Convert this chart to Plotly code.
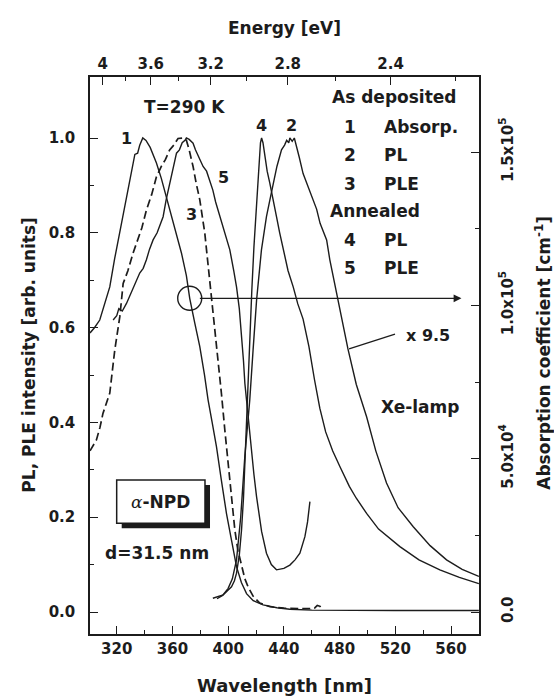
import plotly.graph_objects as go

# ---------------- data ----------------
# Curve 1: absorption coefficient (cm^-1), as deposited
abs_wl = [300.8, 304, 307.8, 311, 315, 318.5, 322.2, 326, 329.3, 331.5, 333, 335, 336.5, 338.7,
          341, 344, 348.5, 352, 355.7, 359, 362.9, 366.5, 370, 372.4, 376, 379.6, 383, 385.6,
          388.5, 391.6, 395, 398.8, 402.5, 406, 409.5, 413.2, 418, 425.1, 435, 444.3, 460, 480,
          520, 580]
abs_coef = [91000, 92700, 95200, 99700, 106000, 115200, 123700, 132900, 140800, 145300, 149200,
            149600, 152200, 154600, 153800, 151500, 146400, 141400, 135400, 129800, 123700,
            117000, 109700, 102300, 94300, 86600, 77300, 69100, 61800, 53900, 43300, 32100,
            23200, 14800, 9600, 6000, 3700, 2300, 1400, 900, 600, 500, 500, 500]

# Curve 2: PL, as deposited (x 9.5)
pl_dep_wl = [392, 396, 400, 403, 406, 409, 412, 415.5, 417.9, 420.4, 423.9, 427.5, 430, 432.3, 435,
             438.3, 440.5, 442, 443.5, 444.3, 446, 447.5, 449, 451, 453.8, 457, 460, 463.5, 466,
             470.7, 473, 476, 479, 486, 492, 499.4, 506, 513.7, 522, 532.9, 545, 556.8, 568, 580]
pl_dep = [0.028, 0.035, 0.05, 0.07, 0.11, 0.2, 0.33, 0.447, 0.553, 0.658, 0.764, 0.834, 0.87, 0.905,
          0.94, 0.975, 0.985, 0.995, 0.99, 1.0, 0.993, 1.0, 0.985, 0.96, 0.925, 0.9, 0.88, 0.85,
          0.82, 0.785, 0.743, 0.70, 0.658, 0.555, 0.48, 0.412, 0.34, 0.272, 0.22, 0.18, 0.14, 0.11,
          0.09, 0.075]

# Curve 3: PLE, as deposited (dashed)
ple_dep_wl = [300.8, 303, 305.4, 308, 310.1, 312.5, 315, 318.6, 322.2, 324.6, 328, 331.7, 335.3, 338,
              341.3, 345, 348.5, 352, 355, 358, 361, 364, 367.6, 370, 372, 374.8, 377, 379.6, 383.2,
              385, 386.8, 388.5, 390.4, 392.5, 395.2, 397.6, 399.5, 401.2, 403, 404.8, 407, 409.6,
              412, 414.3, 418, 422.7, 430, 440, 450, 458, 462, 464, 466, 467]
ple_dep = [0.34, 0.35, 0.363, 0.39, 0.419, 0.44, 0.462, 0.553, 0.623, 0.693, 0.72, 0.757, 0.79, 0.81,
           0.848, 0.88, 0.918, 0.94, 0.955, 0.975, 0.985, 0.999, 1.0, 0.995, 0.975, 0.94, 0.905,
           0.87, 0.80, 0.75, 0.694, 0.64, 0.589, 0.53, 0.46, 0.384, 0.33, 0.278, 0.22, 0.173, 0.13,
           0.096, 0.07, 0.053, 0.033, 0.019, 0.011, 0.008, 0.007, 0.007, 0.008, 0.014, 0.012, 0.006]

# Curve 4: PL, annealed
pl_ann_wl = [389, 393, 396.4, 399.5, 402.4, 404.5, 406, 408, 409.6, 411, 412, 413.9, 415.5, 417, 418.5,
             420.4, 422, 423.2, 424, 425, 426.5, 428, 429.9, 432, 434.7, 437, 439.5, 443, 446.7, 450,
             453.8, 458, 462, 465.8, 470, 475, 480.2, 487, 492, 499.4, 508, 516, 523.3, 537, 552,
             566, 580]
pl_ann = [0.029, 0.033, 0.036, 0.045, 0.053, 0.066, 0.082, 0.12, 0.173, 0.24, 0.314, 0.489, 0.6,
          0.68, 0.77, 0.869, 0.95, 0.99, 1.0, 0.99, 0.96, 0.93, 0.905, 0.87, 0.834, 0.8, 0.764,
          0.72, 0.686, 0.65, 0.618, 0.56, 0.49, 0.43, 0.38, 0.34, 0.307, 0.265, 0.24, 0.208, 0.175,
          0.155, 0.138, 0.11, 0.089, 0.073, 0.06]

# Curve 5: PLE, annealed
ple_ann_wl = [317.4, 320, 321.5, 324, 327, 330, 334.2, 336.5, 339, 341.3, 343.5, 346.1, 349, 351,
              353.3, 355.5, 358, 360, 362.9, 365, 367, 369, 370, 372, 374.8, 376.5, 378, 380, 382,
              384.5, 386.8, 389, 391, 394, 397.5, 401.2, 404, 406, 408, 409.6, 411, 412, 414, 416,
              418.5, 420.4, 424, 427.5, 431, 434.7, 440, 444.3, 448, 451.5, 455.1, 457, 458.7]
ple_ann = [0.616, 0.625, 0.64, 0.635, 0.651, 0.672, 0.70, 0.715, 0.725, 0.743, 0.765, 0.785, 0.80,
           0.815, 0.834, 0.87, 0.905, 0.935, 0.968, 0.975, 0.99, 0.995, 1.0, 0.997, 0.989, 0.975,
           0.965, 0.95, 0.94, 0.93, 0.911, 0.89, 0.865, 0.834, 0.8, 0.764, 0.72, 0.686, 0.64,
           0.588, 0.53, 0.482, 0.42, 0.36, 0.29, 0.243, 0.17, 0.124, 0.10, 0.089, 0.092, 0.099,
           0.11, 0.124, 0.159, 0.19, 0.233]

# axes / ticks
wl_ticks = [320, 360, 400, 440, 480, 520, 560]
energy_ticks = [4, 3.6, 3.2, 2.8, 2.4]
energy_minor = [3.8, 3.4, 3.0, 2.6, 2.2]
abs_ticks = [0, 50000, 100000, 150000]
abs_ticktext = ["0.0", "5.0x10<sup>4</sup>", "1.0x10<sup>5</sup>", "1.5x10<sup>5</sup>"]
abs_minor = [25000, 75000, 125000]

# marked absorption point (circle + arrow to right axis)
mark_wl = 372.4
mark_abs = 102300
arrow_end_wl = 567.5

X_RANGE = [300.8, 580.1]
Y_RANGE = [-0.0464, 1.1287]
SCALE = 154565.0
Y2_RANGE = [Y_RANGE[0] * SCALE, Y_RANGE[1] * SCALE]

HC = 1239.84
INK = "#1c1c1c"
FONT = "DejaVu Sans"

fig = go.Figure()
lw = 1.4
fig.add_trace(go.Scatter(x=abs_wl, y=abs_coef, mode="lines", yaxis="y2",
                         line=dict(color=INK, width=lw), showlegend=False))
fig.add_trace(go.Scatter(x=pl_dep_wl, y=pl_dep, mode="lines",
                         line=dict(color=INK, width=lw), showlegend=False))
fig.add_trace(go.Scatter(x=ple_dep_wl, y=ple_dep, mode="lines",
                         line=dict(color=INK, width=lw + 0.3, dash="8px,4px"), showlegend=False))
fig.add_trace(go.Scatter(x=pl_ann_wl, y=pl_ann, mode="lines",
                         line=dict(color=INK, width=lw), showlegend=False))
fig.add_trace(go.Scatter(x=ple_ann_wl, y=ple_ann, mode="lines",
                         line=dict(color=INK, width=lw), showlegend=False))
# circle marker at the absorption curve
fig.add_trace(go.Scatter(x=[mark_wl], y=[mark_abs], yaxis="y2", mode="markers",
                         marker=dict(symbol="circle-open", size=24, color=INK, line=dict(width=1.4)),
                         showlegend=False))
# dummy trace so the top (energy) axis is drawn
fig.add_trace(go.Scatter(x=X_RANGE, y=[None, None], xaxis="x2", mode="lines",
                         showlegend=False, hoverinfo="skip"))

# arrow from circle to the right axis
fig.add_annotation(x=arrow_end_wl, y=mark_abs, xref="x", yref="y2",
                   ax=mark_wl + 6.2, ay=mark_abs, axref="x", ayref="y2",
                   showarrow=True, arrowhead=2, arrowsize=1.2, arrowwidth=1.3, arrowcolor=INK,
                   text="")

tick_font = dict(family=FONT, size=15, color=INK, weight="bold")
axis_common = dict(showgrid=False, zeroline=False, showline=True, linecolor=INK, linewidth=1.5,
                   ticks="inside", ticklen=8, tickwidth=1.2, tickcolor=INK, tickfont=tick_font)
minor_common = dict(ticks="inside", ticklen=4, tickwidth=1.1, tickcolor=INK, showgrid=False)

fig.update_layout(
    width=554, height=697,
    margin=dict(l=90, r=75, t=77, b=63),
    paper_bgcolor="white", plot_bgcolor="white",
    xaxis=dict(range=X_RANGE, tickmode="array", tickvals=wl_ticks, **axis_common,
               minor=dict(dtick=20, tick0=300, **minor_common)),
    xaxis2=dict(range=X_RANGE, overlaying="x", side="top", tickmode="array",
                tickvals=[HC / e for e in energy_ticks], ticktext=[f"{e:g}" for e in energy_ticks],
                minor=dict(tickvals=[HC / e for e in energy_minor], **minor_common),
                **axis_common),
    yaxis=dict(range=Y_RANGE, tickmode="array", tickvals=[0, 0.2, 0.4, 0.6, 0.8, 1.0],
               ticktext=["0.0", "0.2", "0.4", "0.6", "0.8", "1.0"],
               minor=dict(tickvals=[0.1, 0.3, 0.5, 0.7, 0.9], **minor_common),
               ticklabelstandoff=10, **axis_common),
    yaxis2=dict(range=Y2_RANGE, overlaying="y", side="right", tickmode="array",
                tickvals=abs_ticks, ticktext=abs_ticktext, tickangle=-90,
                minor=dict(tickvals=abs_minor, **minor_common),
                ticklabelstandoff=14, **axis_common),
    font=dict(family=FONT, color=INK),
)


def txt(x, y, s, size=17, xanchor="center", xref="x", yref="y", angle=0):
    fig.add_annotation(x=x, y=y, xref=xref, yref=yref, text=s, showarrow=False,
                       xanchor=xanchor, yanchor="middle", textangle=angle,
                       font=dict(family=FONT, size=size, color=INK, weight="bold"))


# axis titles
txt(0.5, 1.088, "Energy [eV]", 17, xref="paper", yref="paper")
txt(0.5, -0.0916, "Wavelength [nm]", 18, xref="paper", yref="paper")
txt(-0.159, 0.50, "PL, PLE intensity [arb. units]", 17, xref="paper", yref="paper", angle=-90)
txt(1.1645, 0.505, "Absorption coefficient [cm<sup>-1</sup>]", 17, xref="paper", yref="paper",
    angle=-90)

# legend-like text block
txt(369.0, 1.065, "T=290 K", 17)
txt(519.1, 1.086, "As deposited", 17)
legend_rows = [("1", "Absorp.", 1.024), ("2", "PL", 0.964), ("3", "PLE", 0.904)]
for num, name, yy in legend_rows:
    txt(487.5, yy, num, 17)
    txt(510.5, yy, name, 17, xanchor="left")
txt(505.5, 0.845, "Annealed", 17)
for num, name, yy in [("4", "PL", 0.785), ("5", "PLE", 0.725)]:
    txt(487.5, yy, num, 17)
    txt(510.5, yy, name, 17, xanchor="left")

# curve labels
txt(327.2, 1.0, "1", 16)
txt(424.1, 1.027, "4", 16)
txt(445.6, 1.027, "2", 16)
txt(396.5, 0.917, "5", 16)
txt(373.8, 0.838, "3", 16)

txt(543.5, 0.584, "x 9.5", 16)
fig.add_shape(type="line", x0=486.8, y0=0.555, x1=519.8, y1=0.586, xref="x", yref="y",
              line=dict(color=INK, width=1.3))
txt(537.8, 0.433, "Xe-lamp", 17)
txt(348.9, 0.124, "d=31.5 nm", 17)

# alpha-NPD box with drop shadow
fig.add_shape(type="rect", xref="paper", yref="paper", x0=0.0815, x1=0.3085, y0=0.1898, y1=0.2675,
              fillcolor=INK, line=dict(width=0))
fig.add_shape(type="rect", xref="paper", yref="paper", x0=0.0686, x1=0.2956, y0=0.1987, y1=0.2765,
              fillcolor="white", line=dict(color=INK, width=1.5))
txt(0.1825, 0.2375,
    "<span style=\"font-family:'DejaVu Serif';font-weight:normal\"><i>α</i></span>-NPD",
    17, xref="paper", yref="paper")

fig.write_html("out.html")
